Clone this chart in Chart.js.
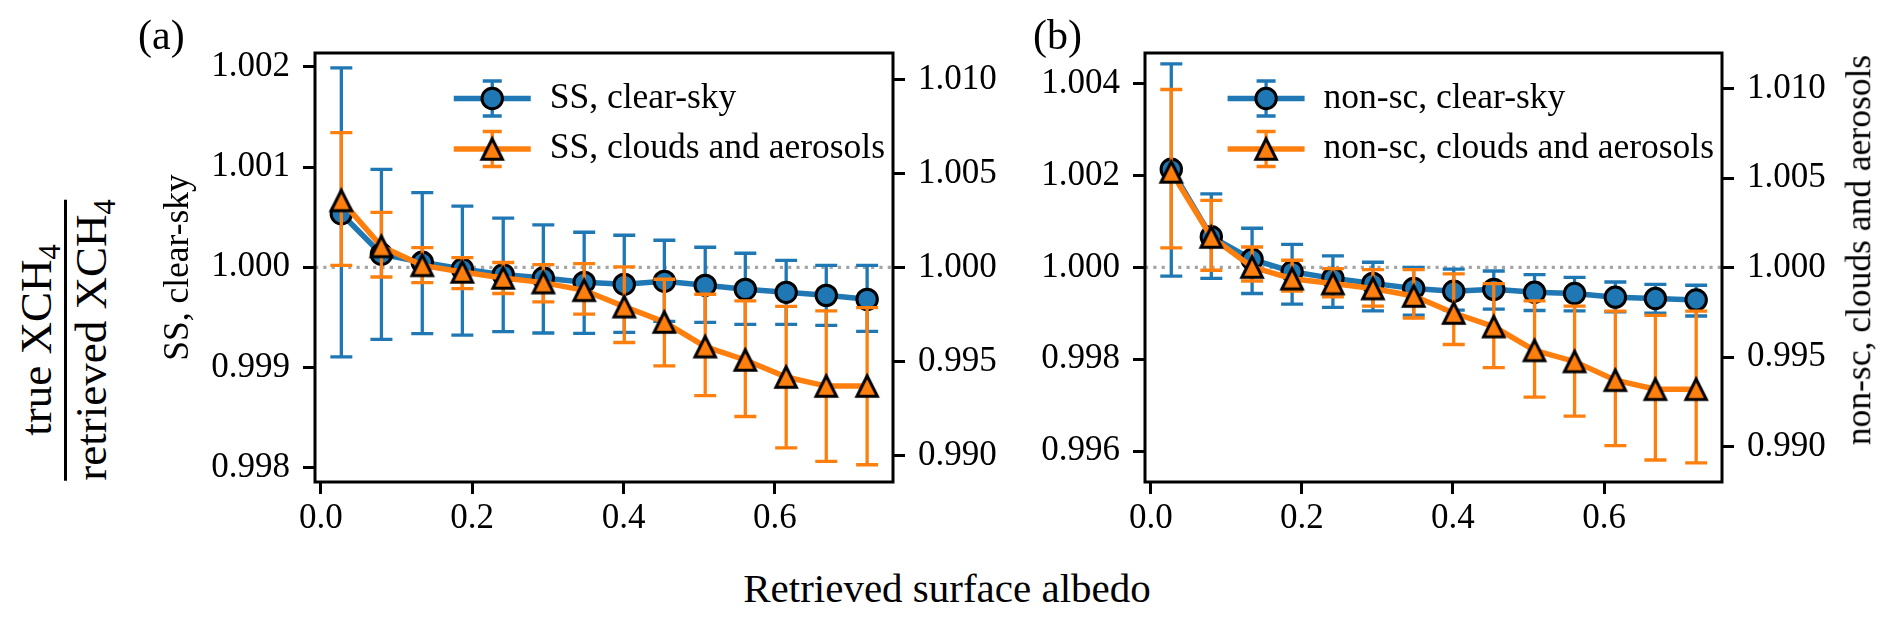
<!DOCTYPE html>
<html>
<head>
<meta charset="utf-8">
<script src="https://cdn.jsdelivr.net/npm/chart.js@4.4.0/dist/chart.umd.min.js"></script>
<style>
  html, body { margin: 0; padding: 0; background: #fff; }
  #fig { position: relative; width: 1892px; height: 622px; overflow: hidden; font-family: 'Liberation Serif', serif; color: #000; }
  #fig canvas { position: absolute; top: 0; }
  #chartA { left: 130px; }
  #chartB { left: 960px; }
  .lbl { position: absolute; white-space: nowrap; line-height: 1; }
  .rot { transform: translate(-50%, -50%) rotate(-90deg); }
  sub { font-size: 0.68em; vertical-align: -0.28em; line-height: 0; }
  #ylab { left: 64px; top: 340px; font-size: 45px; text-align: center; }
  #ylab .num { padding-bottom: 5px; line-height: 45px; }
  #ylab .den { border-top: 3px solid #000; padding-top: 2px; line-height: 45px; }
  #xlab { left: 947px; top: 568px; font-size: 41px; transform: translateX(-50%); }
  #rlabB { left: 1859px; top: 250px; font-size: 35.5px; }
  #panelA { left: 138px; top: 14px; font-size: 42px; }
  #panelB { left: 1033px; top: 14px; font-size: 42px; }
</style>
</head>
<body>
<div id="fig">
  <canvas id="chartA" width="880" height="545"></canvas>
  <canvas id="chartB" width="879" height="545"></canvas>
  <div id="ylab" class="lbl rot">
    <div class="num">true XCH<sub>4</sub></div>
    <div class="den">retrieved XCH<sub>4</sub></div>
  </div>
  <div id="xlab" class="lbl">Retrieved surface albedo</div>
  <div id="rlabB" class="lbl rot">non-sc, clouds and aerosols</div>
  <div id="panelA" class="lbl">(a)</div>
  <div id="panelB" class="lbl">(b)</div>
</div>
<script>
// retrieved albedo bin centres
const albedo = [0.027, 0.080, 0.134, 0.187, 0.241, 0.294, 0.348, 0.401, 0.454, 0.508, 0.561, 0.615, 0.668, 0.722];
const xTicks = [0.0, 0.2, 0.4, 0.6];
const xLimits = [-0.0078, 0.7562];
const refValue = [1.0, 1.0];

// (a) SS, clear-sky (left axis)
const ssClearMean  = [1.000534, 1.00013, 1.00005, 0.999984, 0.999927, 0.999894, 0.99985, 0.99983, 0.99986, 0.99982, 0.99978, 0.99975, 0.99972, 0.99968];
const ssClearUpper = [1.00199, 1.000978, 1.000745, 1.00061, 1.00049, 1.000424, 1.00035, 1.00032, 1.00027, 1.0002, 1.00014, 1.00007, 1.00002, 1.00002];
const ssClearLower = [0.999105, 0.99928, 0.999338, 0.999324, 0.999357, 0.999344, 0.99934, 0.99935, 0.99946, 0.99945, 0.99943, 0.99943, 0.99942, 0.99936];

// (a) SS, clouds and aerosols (right axis)
const ssCloudMean  = [1.00358, 1.00113, 1.00012, 0.99977, 0.99945, 0.9992, 0.99879, 0.99792, 0.9971, 0.99579, 0.99508, 0.99417, 0.99369, 0.99369];
const ssCloudUpper = [1.00719, 1.00294, 1.00106, 1.00053, 1.00027, 1.00016, 1.00021, 1.00004, 0.99938, 0.99858, 0.99823, 0.99793, 0.9977, 0.99787];
const ssCloudLower = [1.00012, 0.9995, 0.9992, 0.99888, 0.99862, 0.99817, 0.99752, 0.99601, 0.99477, 0.99318, 0.99207, 0.9904, 0.98968, 0.9895];

// (b) non-sc, clear-sky (left axis)
const nonscClearMean  = [1.002137, 1.000667, 1.000174, 0.999904, 0.99976, 0.99965, 0.99954, 0.99948, 0.99952, 0.999456, 0.99943, 0.99935, 0.99932, 0.99929];
const nonscClearUpper = [1.00443, 1.0016, 1.00085, 1.0005, 1.00025, 1.00011, 1.0, 0.99996, 0.99992, 0.99984, 0.99978, 0.99968, 0.99963, 0.99961];
const nonscClearLower = [0.99981, 0.99976, 0.99943, 0.9992, 0.99913, 0.99905, 0.99896, 0.99907, 0.99909, 0.99906, 0.99905, 0.99903, 0.999, 0.99894];

// (b) non-sc, clouds and aerosols (right axis)
const nonscCloudMean  = [1.00535, 1.00171, 1.00003, 0.99938, 0.99911, 0.99883, 0.99841, 0.99746, 0.9967, 0.99537, 0.99475, 0.9937, 0.9932, 0.9932];
const nonscCloudUpper = [1.00996, 1.00376, 1.00115, 1.00041, 0.99994, 0.99989, 0.99989, 0.99965, 0.9991, 0.99814, 0.99784, 0.99756, 0.99733, 0.99756];
const nonscCloudLower = [1.0011, 0.99985, 0.99925, 0.99869, 0.99836, 0.99784, 0.99718, 0.9957, 0.99441, 0.99276, 0.99169, 0.99004, 0.98924, 0.98908];

// axis ticks and limits
const ticksALeft  = [0.998, 0.999, 1.000, 1.001, 1.002];
const ticksARight = [0.990, 0.995, 1.000, 1.005, 1.010];
const ticksBLeft  = [0.996, 0.998, 1.000, 1.002, 1.004];
const ticksBRight = [0.990, 0.995, 1.000, 1.005, 1.010];
const limALeft  = [0.997857, 1.002139];
const limARight = [0.98858, 1.01143];
const limBLeft  = [0.995326, 1.004666];
const limBRight = [0.98801, 1.0120];

const BLUE = '#1f77b4';
const ORANGE = '#ff7f0e';
const FONT = "'Liberation Serif'";
const LINE_W = 5.5;
const ERR_W = 3.3;
const EDGE_W = 3;

Chart.defaults.font.family = FONT;
Chart.defaults.color = '#000';

// matplotlib-like '^' marker (same width and height, centred on its box)
function makeTriangle(fill) {
  const c = document.createElement('canvas');
  c.width = 34; c.height = 34;
  const g = c.getContext('2d');
  const s = 20.5;
  g.beginPath();
  g.moveTo(17, 17 - s / 2);
  g.lineTo(17 - s / 2, 17 + s / 2);
  g.lineTo(17 + s / 2, 17 + s / 2);
  g.closePath();
  g.fillStyle = fill;
  g.fill();
  g.lineWidth = EDGE_W;
  g.lineJoin = 'miter';
  g.strokeStyle = '#000';
  g.stroke();
  return c;
}
const triangle = makeTriangle(ORANGE);

const errorBars = {
  id: 'errorBars',
  beforeDatasetDraw(chart, args) {
    const ds = chart.data.datasets[args.index];
    if (!ds.upper) return;
    const ctx = chart.ctx;
    const xs = chart.scales.x;
    const ys = chart.scales[ds.yAxisID];
    ctx.save();
    ctx.strokeStyle = ds.borderColor;
    ctx.lineWidth = ERR_W;
    ctx.beginPath();
    ds.data.forEach((p, i) => {
      const px = xs.getPixelForValue(p.x);
      const top = ys.getPixelForValue(ds.upper[i]);
      const bot = ys.getPixelForValue(ds.lower[i]);
      ctx.moveTo(px, top); ctx.lineTo(px, bot);
      ctx.moveTo(px - 11, top); ctx.lineTo(px + 11, top);
      ctx.moveTo(px - 11, bot); ctx.lineTo(px + 11, bot);
    });
    ctx.stroke();
    ctx.restore();
  }
};

const frame = {
  id: 'frame',
  afterDatasetsDraw(chart) {
    const {ctx, chartArea: a} = chart;
    ctx.save();
    ctx.strokeStyle = '#000';
    ctx.lineWidth = 3;
    ctx.strokeRect(a.left, a.top, a.right - a.left, a.bottom - a.top);
    ctx.restore();
  }
};

const innerLegend = {
  id: 'innerLegend',
  afterDatasetsDraw(chart, args, opts) {
    const {ctx, chartArea: a} = chart;
    const items = chart.data.datasets.filter(d => d.inLegend);
    ctx.save();
    ctx.font = opts.fontSize + 'px ' + FONT;
    const textW = Math.max(...items.map(d => ctx.measureText(d.label).width));
    const textX = a.right - opts.padRight - textW;
    const hx1 = textX - opts.gap;
    const hx0 = hx1 - opts.handleLen;
    const mx = (hx0 + hx1) / 2;
    items.forEach((d, i) => {
      const y = a.top + opts.rowY[i];
      ctx.strokeStyle = d.borderColor;
      ctx.lineWidth = ERR_W;
      ctx.beginPath();
      ctx.moveTo(mx, y - opts.capH); ctx.lineTo(mx, y + opts.capH);
      ctx.moveTo(mx - 9.5, y - opts.capH); ctx.lineTo(mx + 9.5, y - opts.capH);
      ctx.moveTo(mx - 9.5, y + opts.capH); ctx.lineTo(mx + 9.5, y + opts.capH);
      ctx.stroke();
      ctx.lineWidth = d.borderWidth;
      ctx.beginPath(); ctx.moveTo(hx0, y); ctx.lineTo(hx1, y); ctx.stroke();
      if (d.pointStyle === 'circle') {
        ctx.beginPath();
        ctx.arc(mx, y, d.pointRadius, 0, Math.PI * 2);
        ctx.fillStyle = d.pointBackgroundColor;
        ctx.fill();
        ctx.lineWidth = d.pointBorderWidth;
        ctx.strokeStyle = '#000';
        ctx.stroke();
      } else {
        ctx.drawImage(d.pointStyle, mx - d.pointStyle.width / 2, y - d.pointStyle.height / 2);
      }
      ctx.fillStyle = '#000';
      ctx.textBaseline = 'middle';
      ctx.textAlign = 'left';
      ctx.fillText(d.label, textX, y);
    });
    ctx.restore();
  }
};

function points(mean) {
  return albedo.map((x, i) => ({x: x, y: mean[i]}));
}

function tickAxis(values, lim, position, width, title) {
  return {
    type: 'linear',
    position: position,
    min: lim[0],
    max: lim[1],
    bounds: 'data',
    afterBuildTicks: function(axis) { axis.ticks = values.map(v => ({value: v})); },
    afterFit: function(axis) { axis.width = width; },
    ticks: { callback: v => v.toFixed(3), font: {size: 35}, color: '#000', padding: 13, autoSkip: false },
    grid: { drawOnChartArea: false, drawTicks: true, tickLength: 12, tickWidth: 3, tickColor: '#000' },
    border: { display: false },
    title: title ? { display: true, text: title, font: {size: 35.5}, color: '#000', padding: {top: 27, bottom: 0} } : { display: false }
  };
}

function makePanel(id, clear, cloud, ticksL, ticksR, limL, limR, leftTitle, rightWidth) {
  const datasets = [
    {
      label: clear.label, inLegend: true, order: 1, yAxisID: 'y',
      data: points(clear.mean), upper: clear.upper, lower: clear.lower,
      borderColor: BLUE, borderWidth: LINE_W, showLine: true,
      pointStyle: 'circle', pointRadius: 10.2, pointBackgroundColor: BLUE,
      pointBorderColor: '#000', pointBorderWidth: EDGE_W, clip: false
    },
    {
      label: cloud.label, inLegend: true, order: 0, yAxisID: 'y1',
      data: points(cloud.mean), upper: cloud.upper, lower: cloud.lower,
      borderColor: ORANGE, borderWidth: LINE_W, showLine: true,
      pointStyle: triangle, pointRadius: 12, pointBackgroundColor: ORANGE,
      pointBorderColor: '#000', pointBorderWidth: EDGE_W, clip: false
    },
    {
      label: 'reference', order: 2, yAxisID: 'y',
      data: xLimits.map((x, i) => ({x: x, y: refValue[i]})),
      borderColor: '#a6a6a6', borderWidth: 3.2, borderDash: [3.2, 5.1],
      pointRadius: 0, showLine: true
    }
  ];

  return new Chart(document.getElementById(id), {
    type: 'line',
    data: { datasets: datasets },
    options: {
      responsive: false,
      devicePixelRatio: 1,
      animation: false,
      events: [],
      layout: { padding: {top: 53, left: 0, right: 0, bottom: 0} },
      scales: {
        x: {
          type: 'linear',
          min: xLimits[0],
          max: xLimits[1],
          bounds: 'data',
          afterBuildTicks: function(axis) { axis.ticks = xTicks.map(v => ({value: v})); },
          afterFit: function(axis) { axis.height = 63; },
          ticks: { callback: v => v.toFixed(1), font: {size: 35}, color: '#000', padding: 4, maxRotation: 0, autoSkip: false },
          grid: { drawOnChartArea: false, drawTicks: true, tickLength: 12, tickWidth: 3, tickColor: '#000' },
          border: { display: false }
        },
        y: tickAxis(ticksL, limL, 'left', 185, leftTitle),
        y1: tickAxis(ticksR, limR, 'right', rightWidth, null)
      },
      plugins: {
        legend: { display: false },
        tooltip: { enabled: false },
        innerLegend: { fontSize: 35.5, padRight: 8, gap: 19, handleLen: 77, capH: 17.5, rowY: [45.5, 96] }
      }
    },
    plugins: [errorBars, frame, innerLegend]
  });
}

makePanel('chartA',
  {label: 'SS, clear-sky', mean: ssClearMean, upper: ssClearUpper, lower: ssClearLower},
  {label: 'SS, clouds and aerosols', mean: ssCloudMean, upper: ssCloudUpper, lower: ssCloudLower},
  ticksALeft, ticksARight, limALeft, limARight, 'SS, clear-sky', 117);

makePanel('chartB',
  {label: 'non-sc, clear-sky', mean: nonscClearMean, upper: nonscClearUpper, lower: nonscClearLower},
  {label: 'non-sc, clouds and aerosols', mean: nonscCloudMean, upper: nonscCloudUpper, lower: nonscCloudLower},
  ticksBLeft, ticksBRight, limBLeft, limBRight, null, 117);
</script>
</body>
</html>
